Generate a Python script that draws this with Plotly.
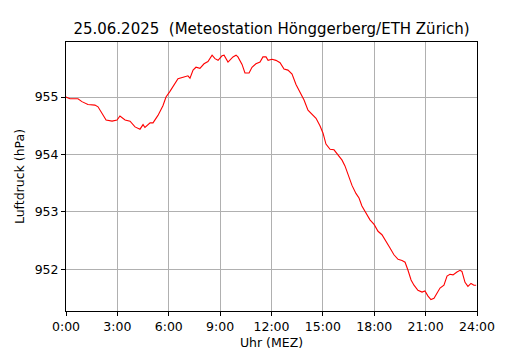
import plotly.graph_objects as go

hours = [0, 0.23, 0.70, 0.93, 1.28, 1.69, 1.87, 2.16, 2.34, 2.69, 2.98, 3.15, 3.45, 3.74,
         4.03, 4.32, 4.50, 4.61, 4.91, 5.08, 5.37, 5.66, 5.84, 6.07, 6.31, 6.54, 6.89,
         7.12, 7.24, 7.42, 7.59, 7.82, 8.06, 8.29, 8.53, 8.70, 8.88, 9.11, 9.23, 9.46,
         9.75, 9.93, 10.04, 10.28, 10.45, 10.69, 10.86, 11.09, 11.33, 11.50, 11.68, 11.80,
         12.03, 12.26, 12.50, 12.73, 12.96, 13.20, 13.43, 13.66, 13.90, 14.13, 14.42,
         14.60, 14.83, 15.01, 15.18, 15.42, 15.65, 15.88, 16.12, 16.29, 16.47, 16.70,
         16.93, 17.11, 17.28, 17.52, 17.75, 17.99, 18.22, 18.45, 18.69, 18.92, 19.15,
         19.39, 19.62, 19.80, 19.97, 20.15, 20.32, 20.55, 20.79, 20.96, 21.14, 21.31,
         21.49, 21.66, 21.84, 22.07, 22.25, 22.42, 22.60, 22.83, 23.01, 23.12, 23.30,
         23.47, 23.65, 23.82, 23.95]
pressure = [955.00, 954.97, 954.97, 954.92, 954.87, 954.86, 954.83, 954.70, 954.60, 954.58,
            954.60, 954.67, 954.60, 954.58, 954.48, 954.44, 954.52, 954.47, 954.55, 954.55,
            954.68, 954.85, 955.00, 955.10, 955.22, 955.32, 955.35, 955.37, 955.33, 955.47,
            955.52, 955.50, 955.58, 955.62, 955.73, 955.67, 955.64, 955.72, 955.73, 955.61,
            955.70, 955.73, 955.70, 955.57, 955.42, 955.42, 955.52, 955.58, 955.61, 955.70,
            955.70, 955.64, 955.66, 955.64, 955.60, 955.49, 955.47, 955.40, 955.22, 955.09,
            954.95, 954.77, 954.68, 954.63, 954.50, 954.37, 954.18, 954.09, 954.08, 954.00,
            953.90, 953.80, 953.64, 953.46, 953.32, 953.24, 953.10, 952.98, 952.86, 952.78,
            952.66, 952.60, 952.47, 952.37, 952.25, 952.17, 952.15, 952.12, 951.98, 951.81,
            951.72, 951.63, 951.60, 951.62, 951.53, 951.47, 951.49, 951.58, 951.67, 951.72,
            951.88, 951.91, 951.90, 951.95, 951.98, 951.96, 951.77, 951.70, 951.75, 951.72,
            951.72]

tick_hours = [0, 3, 6, 9, 12, 15, 18, 21, 24]
tick_labels = ["0:00", "3:00", "6:00", "9:00", "12:00", "15:00", "18:00", "21:00", "24:00"]
y_ticks = [952, 953, 954, 955]

title_text = "25.06.2025  (Meteostation Hönggerberg/ETH Zürich)"

# The page body has an 8px margin, so the figure is sized to fit the 530x350 window.
W, H = 522, 342

fig = go.Figure()
fig.add_trace(go.Scatter(x=hours, y=pressure, mode="lines",
                         line=dict(color="red", width=1.1), hoverinfo="skip"))

axis_common = dict(showline=True, linecolor="black", linewidth=1, mirror=True,
                   showgrid=True, gridcolor="#b0b0b0", gridwidth=1,
                   ticks="outside", ticklen=4, tickcolor="black", tickwidth=1,
                   zeroline=False, automargin=False,
                   tickfont=dict(size=12.5, color="black"))

fig.update_layout(
    width=W, height=H,
    margin=dict(l=58, r=53, t=34, b=39),
    paper_bgcolor="white", plot_bgcolor="white",
    font=dict(family="DejaVu Sans", color="black"),
    showlegend=False,
    title=dict(text=title_text, x=263.5 / W, xref="container", xanchor="center",
               y=1 - 21 / H, yref="container", yanchor="middle",
               font=dict(size=15, color="black"), automargin=False),
    xaxis=dict(range=[0, 24], tickvals=tick_hours, ticktext=tick_labels,
               title=dict(text="Uhr (MEZ)", font=dict(size=12.5), standoff=10),
               **axis_common),
    yaxis=dict(range=[951.27, 955.96], tickvals=y_ticks,
               title=dict(text="Luftdruck (hPa)", font=dict(size=12.5), standoff=7),
               **axis_common),
)

fig.write_html("out.html")
